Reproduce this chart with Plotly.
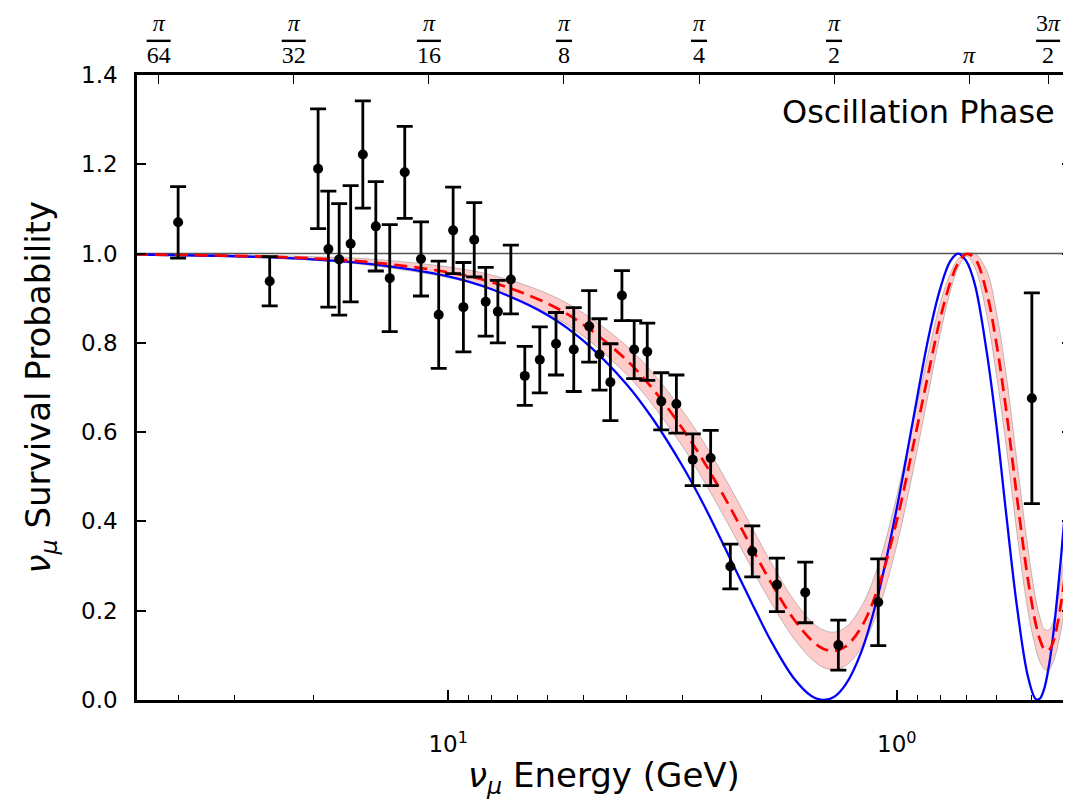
import math
import plotly.graph_objects as go

# ---------------- data ----------------
# measured points
energy_gev = [40, 25, 19.5, 18.5, 17.5, 16.5, 15.5, 14.5, 13.5, 12.5, 11.5, 10.5,
              9.75, 9.25, 8.75, 8.25, 7.75, 7.25, 6.75, 6.25, 5.75, 5.25,
              4.85, 4.60, 4.35, 4.10, 3.85, 3.60, 3.35, 3.10, 2.85, 2.60,
              2.35, 2.10, 1.85, 1.60, 1.35, 1.10, 0.50]
survival = [1.070, 0.938, 1.190, 1.010, 0.987, 1.022, 1.222, 1.061, 0.945, 1.182, 0.988, 0.863,
            1.052, 0.880, 1.031, 0.892, 0.870, 0.942, 0.726, 0.762, 0.798, 0.785,
            0.837, 0.774, 0.712, 0.906, 0.785, 0.780, 0.669, 0.663, 0.538, 0.542,
            0.299, 0.333, 0.258, 0.241, 0.123, 0.219, 0.676]
survival_err = [0.080, 0.055, 0.134, 0.130, 0.125, 0.130, 0.120, 0.100, 0.120, 0.103, 0.083, 0.120,
                0.097, 0.100, 0.083, 0.077, 0.070, 0.077, 0.066, 0.074, 0.070, 0.094,
                0.080, 0.080, 0.086, 0.056, 0.065, 0.064, 0.064, 0.065, 0.058, 0.062,
                0.050, 0.057, 0.060, 0.068, 0.056, 0.097, 0.236]

# curves
curve_energy = [50, 30, 20, 15, 10, 8, 6, 5, 4, 3.5, 3, 2.7, 2.4, 2.1, 1.9, 1.7, 1.55, 1.46,
                1.38, 1.3, 1.2, 1.1, 1.0, 0.92, 0.85, 0.8, 0.76, 0.73, 0.70, 0.67, 0.63,
                0.60, 0.57, 0.54, 0.51, 0.49, 0.48, 0.47, 0.46, 0.45, 0.43, 0.41, 0.40]
blue_curve = [0.998, 0.994, 0.987, 0.977, 0.949, 0.920, 0.862, 0.805, 0.707, 0.630, 0.523,
              0.439, 0.335, 0.215, 0.129, 0.050, 0.009, 0.000, 0.007, 0.035, 0.108, 0.237,
              0.430, 0.627, 0.812, 0.922, 0.983, 1.000, 0.983, 0.931, 0.778, 0.617, 0.414,
              0.211, 0.052, 0.002, 0.003, 0.023, 0.066, 0.131, 0.325, 0.578, 0.717]
fit_curve = [0.998, 0.995, 0.989, 0.981, 0.958, 0.936, 0.888, 0.841, 0.761, 0.697, 0.607,
             0.536, 0.447, 0.339, 0.260, 0.182, 0.134, 0.115, 0.110, 0.120, 0.163, 0.252,
             0.402, 0.568, 0.733, 0.855, 0.935, 0.978, 0.999, 0.989, 0.911, 0.800, 0.647,
             0.456, 0.269, 0.170, 0.136, 0.115, 0.111, 0.125, 0.219, 0.398, 0.511]
band_upper = [0.999, 0.997, 0.993, 0.988, 0.970, 0.952, 0.910, 0.867, 0.793, 0.733, 0.647,
              0.579, 0.492, 0.385, 0.305, 0.225, 0.176, 0.157, 0.152, 0.163, 0.209, 0.302,
              0.457, 0.623, 0.778, 0.890, 0.955, 0.988, 1.000, 1.000, 0.961, 0.870, 0.727,
              0.536, 0.339, 0.225, 0.186, 0.160, 0.156, 0.170, 0.279, 0.478, 0.591]
band_lower = [0.997, 0.993, 0.985, 0.974, 0.946, 0.920, 0.866, 0.815, 0.729, 0.661, 0.567,
              0.493, 0.402, 0.293, 0.215, 0.139, 0.092, 0.073, 0.068, 0.077, 0.117, 0.202,
              0.347, 0.513, 0.688, 0.820, 0.915, 0.968, 0.994, 0.969, 0.861, 0.730, 0.567,
              0.376, 0.199, 0.115, 0.086, 0.070, 0.066, 0.080, 0.159, 0.318, 0.431]

# top axis: oscillation phase
phase_energy = [44.2, 22.1, 11.04, 5.52, 2.76, 1.38, 0.69, 0.46]
OV = "<span style='text-decoration:overline'>{}</span>"
phase_labels = ["<i>π</i><br>" + OV.format("64"),
                "<i>π</i><br>" + OV.format("32"),
                "<i>π</i><br>" + OV.format("16"),
                "<i>π</i><br>" + OV.format("\u200a8\u200a"),
                "<i>π</i><br>" + OV.format("\u200a4\u200a"),
                "<i>π</i><br>" + OV.format("\u200a2\u200a"),
                "<i>π</i>",
                "3<i>π</i><br>" + OV.format("\u00a02\u00a0")]

# bottom axis
major_ticks = [10, 1]
major_labels = ["10<sup>1</sup>", "10<sup>0</sup>"]
minor_ticks = [40, 30, 20, 9, 8, 7, 6, 5, 4, 3, 2, 0.9, 0.8, 0.7, 0.6, 0.5]

x_range_gev = [49.4, 0.409]
y_range = [0.0, 1.4]

# ---------------- figure ----------------
OFF = 8                      # page body margin of the browser
W, H = 1071 - OFF, 808 - 2 * OFF
ML, MR, MT = 137 - OFF, 0, 75 - OFF
MB = H - (700 - OFF)
PW, PH = W - ML - MR, H - MT - MB
xr = [math.log10(x_range_gev[0]), math.log10(x_range_gev[1])]


def px_x(sx):
    return (sx - OFF - ML) / PW


def px_y(sy):
    return (H - MB - (sy - OFF)) / PH


fig = go.Figure()

fig.add_trace(go.Scatter(x=curve_energy, y=band_lower, mode="lines",
                         line=dict(color="rgba(120,120,120,0.45)", width=1, shape="spline"),
                         hoverinfo="skip", showlegend=False))
fig.add_trace(go.Scatter(x=curve_energy, y=band_upper, mode="lines", fill="tonexty",
                         fillcolor="rgba(255,0,0,0.2)",
                         line=dict(color="rgba(120,120,120,0.45)", width=1, shape="spline"),
                         hoverinfo="skip", showlegend=False))
fig.add_trace(go.Scatter(x=curve_energy, y=blue_curve, mode="lines",
                         line=dict(color="#0000ff", width=2.3, shape="spline"),
                         showlegend=False))
fig.add_trace(go.Scatter(x=curve_energy, y=fit_curve, mode="lines",
                         line=dict(color="#ff0000", width=2.7, shape="spline", dash="13px,7px"),
                         showlegend=False))
fig.add_trace(go.Scatter(x=energy_gev, y=survival, mode="markers",
                         marker=dict(color="black", size=10),
                         error_y=dict(type="data", array=survival_err, color="black",
                                      thickness=2.8, width=8),
                         showlegend=False))
# dummy trace so the top axis is drawn
fig.add_trace(go.Scatter(x=[1], y=[None], xaxis="x2", mode="markers",
                         showlegend=False, hoverinfo="skip"))

fig.add_shape(type="line", xref="paper", x0=0, x1=1, yref="y", y0=1.0, y1=1.0,
              line=dict(color="#555555", width=1.5), layer="below")

tick_font = dict(family="DejaVu Sans", size=23, color="black")

fig.update_layout(
    width=W, height=H,
    margin=dict(l=ML, r=MR, t=MT, b=MB, pad=0),
    paper_bgcolor="white", plot_bgcolor="white",
    font=dict(family="DejaVu Sans", color="black"),
    xaxis=dict(type="log", range=xr, showgrid=False, zeroline=False, automargin=False,
               showline=True, linecolor="black", linewidth=2.5,
               ticks="inside", ticklen=10, tickwidth=1.5, tickcolor="black",
               tickmode="array", tickvals=major_ticks, ticktext=major_labels,
               tickfont=tick_font, ticklabelstandoff=22,
               minor=dict(tickmode="array", tickvals=minor_ticks, ticks="inside",
                          ticklen=5, tickwidth=1.2, tickcolor="black", showgrid=False)),
    xaxis2=dict(type="log", range=xr, overlaying="x", side="top", anchor="y",
                showgrid=False, zeroline=False, automargin=False,
                showline=True, linecolor="black", linewidth=2.5,
                ticks="inside", ticklen=9, tickwidth=1.2, tickcolor="black",
                tickmode="array", tickvals=phase_energy, ticktext=phase_labels,
                tickfont=dict(family="Liberation Serif", size=24, color="black"),
                ticklabelstandoff=0),
    yaxis=dict(range=y_range, showgrid=False, zeroline=False, automargin=False,
               showline=True, linecolor="black", linewidth=2.5, mirror="ticks",
               ticks="inside", ticklen=9, tickwidth=1.5, tickcolor="black",
               tickmode="array", tickvals=[0, 0.2, 0.4, 0.6, 0.8, 1.0, 1.2, 1.4],
               ticktext=["0.0", "0.2", "0.4", "0.6", "0.8", "1.0", "1.2", "1.4"],
               tickfont=tick_font, ticklabelstandoff=12),
)

fig.add_annotation(text="<i>ν</i><sub><i>μ</i></sub> Energy (GeV)", xref="paper", yref="paper",
                   x=0.5, y=px_y(777), xanchor="center", yanchor="middle",
                   showarrow=False, font=dict(family="DejaVu Sans", size=34, color="black"))
fig.add_annotation(text="<i>ν</i><sub><i>μ</i></sub> Survival Probability", xref="paper", yref="paper",
                   x=px_x(40), y=0.5, xanchor="center", yanchor="middle", textangle=-90,
                   showarrow=False, font=dict(family="DejaVu Sans", size=34, color="black"))
fig.add_annotation(text="Oscillation Phase", xref="paper", yref="paper",
                   x=px_x(1057), y=px_y(112), xanchor="right", yanchor="middle",
                   showarrow=False, font=dict(family="DejaVu Sans", size=32, color="black"))

fig.write_html("out.html")
